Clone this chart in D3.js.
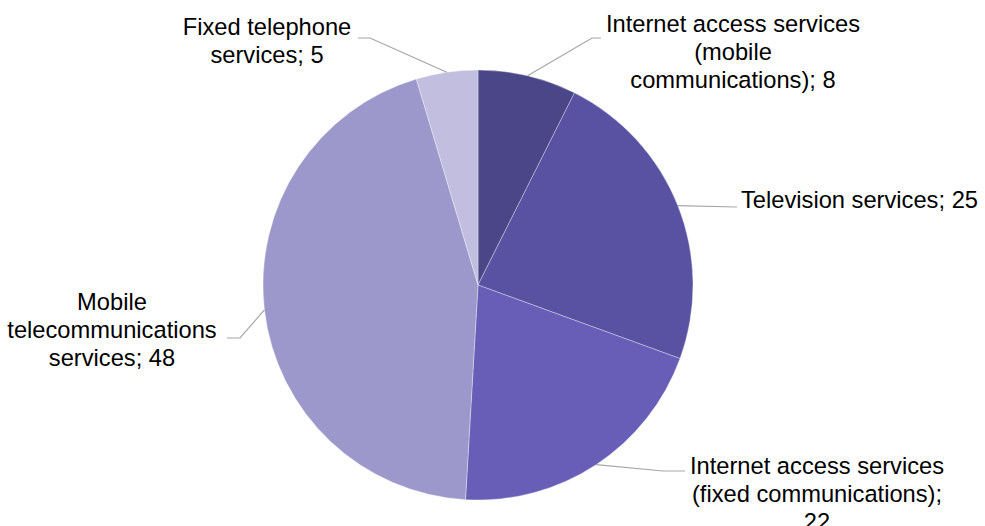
<!DOCTYPE html>
<html>
<head>
<meta charset="utf-8">
<script src="https://cdn.jsdelivr.net/npm/d3@7"></script>
<style>
  html, body { margin: 0; padding: 0; background: #ffffff; }
  svg { display: block; }
  text { font-family: "Liberation Sans", Arial, sans-serif; }
</style>
</head>
<body>
<svg id="chart" width="985" height="526"></svg>
<script>
// ---- Data ----
const categories = [
  "Internet access services (mobile communications)",
  "Television services",
  "Internet access services (fixed communications)",
  "Mobile telecommunications services",
  "Fixed telephone services"
];
const values = [8, 25, 22, 48, 5];
const colors = ["#4a4687", "#5951a2", "#685eb7", "#9c98cb", "#c2bedf"];

// ---- Layout ----
const W = 985, H = 526;
const cx = 478, cy = 285, R = 215;
const fontSize = 23.7, lineH = 28;
// label layout: anchor, x, first baseline y, wrap width, leader elbow + end points
const labelLayout = [
  { anchor: "middle", x: 733, y: 32,  wrap: 265, elbow: [592, 38],  end: [601, 38] },
  { anchor: "start",  x: 741, y: 208, wrap: 320, elbow: null,       end: [737, 207] },
  { anchor: "middle", x: 817, y: 474, wrap: 265, elbow: [663, 471], end: [685, 471] },
  { anchor: "middle", x: 112, y: 310, wrap: 225, elbow: [240, 338], end: [227, 338] },
  { anchor: "middle", x: 267, y: 35,  wrap: 180, elbow: [370, 38],  end: [358, 38] }
];

const svg = d3.select("#chart");
const g = svg.append("g").attr("transform", `translate(${cx},${cy})`);

const pie = d3.pie().sort(null).value(d => d.value);
const data = categories.map((c, i) => ({ category: c, value: values[i], color: colors[i] }));
const arcs = pie(data);
const arc = d3.arc().innerRadius(0).outerRadius(R);
const edgeArc = d3.arc().innerRadius(R).outerRadius(R);

g.selectAll("path.slice")
  .data(arcs)
  .enter().append("path")
  .attr("class", "slice")
  .attr("d", arc)
  .attr("fill", d => d.data.color)
  .attr("stroke", "rgba(255,255,255,0.45)")
  .attr("stroke-width", 0.75);

// leader lines
arcs.forEach((a, i) => {
  const L = labelLayout[i];
  const [ex, ey] = edgeArc.centroid(a);
  const pts = [[ex + cx, ey + cy]];
  if (L.elbow) pts.push(L.elbow);
  pts.push(L.end);
  svg.append("path")
    .attr("d", d3.line()(pts))
    .attr("fill", "none")
    .attr("stroke", "#a6a6a6")
    .attr("stroke-width", 1.2);
});

// labels with wrapping
const measure = svg.append("text").attr("font-size", fontSize).attr("visibility", "hidden");
function textWidth(s) { measure.text(s); return measure.node().getComputedTextLength(); }
function wrap(str, maxW) {
  const words = str.split(" ");
  const lines = [];
  let cur = "";
  words.forEach(w => {
    const test = cur ? cur + " " + w : w;
    if (cur && textWidth(test) > maxW) { lines.push(cur); cur = w; }
    else cur = test;
  });
  if (cur) lines.push(cur);
  return lines;
}

arcs.forEach((a, i) => {
  const L = labelLayout[i];
  const lines = wrap(a.data.category + "; " + a.data.value, L.wrap);
  const t = svg.append("text")
    .attr("font-size", fontSize)
    .attr("fill", "#000000")
    .attr("text-anchor", L.anchor);
  lines.forEach((ln, k) => {
    t.append("tspan").attr("x", L.x).attr("y", L.y + k * lineH).text(ln);
  });
});
measure.remove();
</script>
</body>
</html>
